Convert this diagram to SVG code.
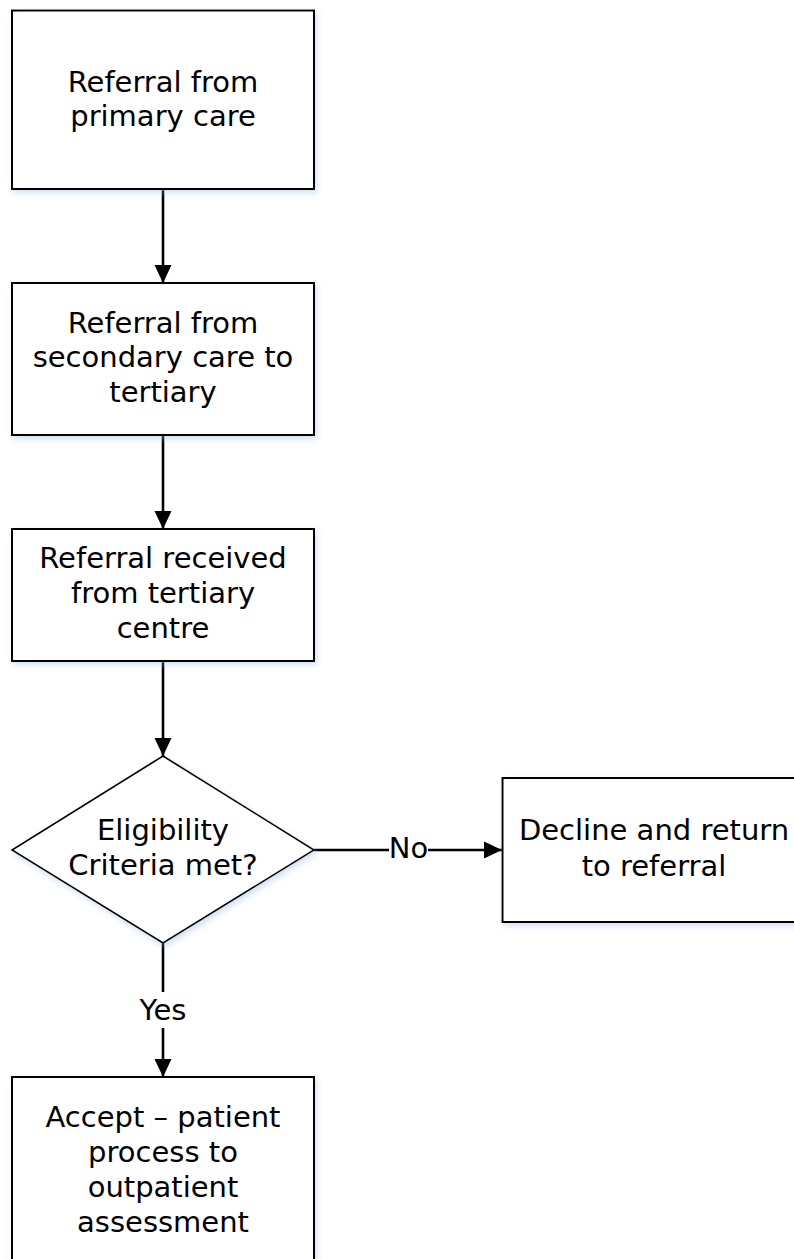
<svg xmlns="http://www.w3.org/2000/svg" width="794" height="1259" viewBox="0 0 794 1259">
  <style>
    .box { fill: #ffffff; stroke: #000000; stroke-width: 2; }
    .dia { fill: #ffffff; stroke: #000000; stroke-width: 1.6; }
    .con { fill: none; stroke: #000000; stroke-width: 2.6; }
    text { font-family: "DejaVu Sans", Verdana, sans-serif; font-size: 29px; fill: #000000; text-anchor: middle; }
  </style>
  <defs>
    <marker id="arrow" markerUnits="userSpaceOnUse" markerWidth="18" markerHeight="18" viewBox="0 0 18 18" refX="18" refY="9" orient="auto">
      <path d="M0,0.5 L18,9 L0,17.5 Z" fill="#000000"/>
    </marker>
    <filter id="shadow" x="-10%" y="-10%" width="130%" height="130%">
      <feDropShadow dx="2" dy="3" stdDeviation="3" flood-color="#9ab8e0" flood-opacity="0.45"/>
    </filter>
  </defs>
  <rect width="794" height="1259" fill="#ffffff"/>

  <g id="connectors">
    <line class="con" x1="163" y1="189" x2="163" y2="283" marker-end="url(#arrow)"/>
    <line class="con" x1="163" y1="435" x2="163" y2="529" marker-end="url(#arrow)"/>
    <line class="con" x1="163" y1="661" x2="163" y2="756" marker-end="url(#arrow)"/>
    <line class="con" x1="314" y1="850" x2="389" y2="850"/>
    <line class="con" x1="428" y1="850" x2="502" y2="850" marker-end="url(#arrow)"/>
    <text x="408.5" y="858">No</text>
    <line class="con" x1="163" y1="943" x2="163" y2="992"/>
    <line class="con" x1="163" y1="1028" x2="163" y2="1077" marker-end="url(#arrow)"/>
    <text x="163" y="1020">Yes</text>
  </g>

  <g id="node-primary">
    <rect class="box" x="12" y="10.5" width="302" height="178.5" filter="url(#shadow)"/>
    <text x="163" y="92">Referral from</text>
    <text x="163" y="126">primary care</text>
  </g>

  <g id="node-secondary">
    <rect class="box" x="12" y="283" width="302" height="152" filter="url(#shadow)"/>
    <text x="163" y="333">Referral from</text>
    <text x="163" y="367">secondary care to</text>
    <text x="163" y="402">tertiary</text>
  </g>

  <g id="node-received">
    <rect class="box" x="12" y="529" width="302" height="132" filter="url(#shadow)"/>
    <text x="163" y="568">Referral received</text>
    <text x="163" y="603">from tertiary</text>
    <text x="163" y="638">centre</text>
  </g>

  <g id="node-eligibility">
    <polygon class="dia" points="163,756 314,850 163,943 12,850" filter="url(#shadow)"/>
    <text x="163" y="840">Eligibility</text>
    <text x="163" y="875">Criteria met?</text>
  </g>

  <g id="node-decline">
    <rect class="box" x="502.5" y="778" width="304" height="144" filter="url(#shadow)"/>
    <text x="654" y="840">Decline and return</text>
    <text x="654" y="876">to referral</text>
  </g>

  <g id="node-accept">
    <rect class="box" x="12" y="1077" width="302" height="190" filter="url(#shadow)"/>
    <text x="163" y="1127">Accept – patient</text>
    <text x="163" y="1162">process to</text>
    <text x="163" y="1197">outpatient</text>
    <text x="163" y="1232">assessment</text>
  </g>
</svg>
